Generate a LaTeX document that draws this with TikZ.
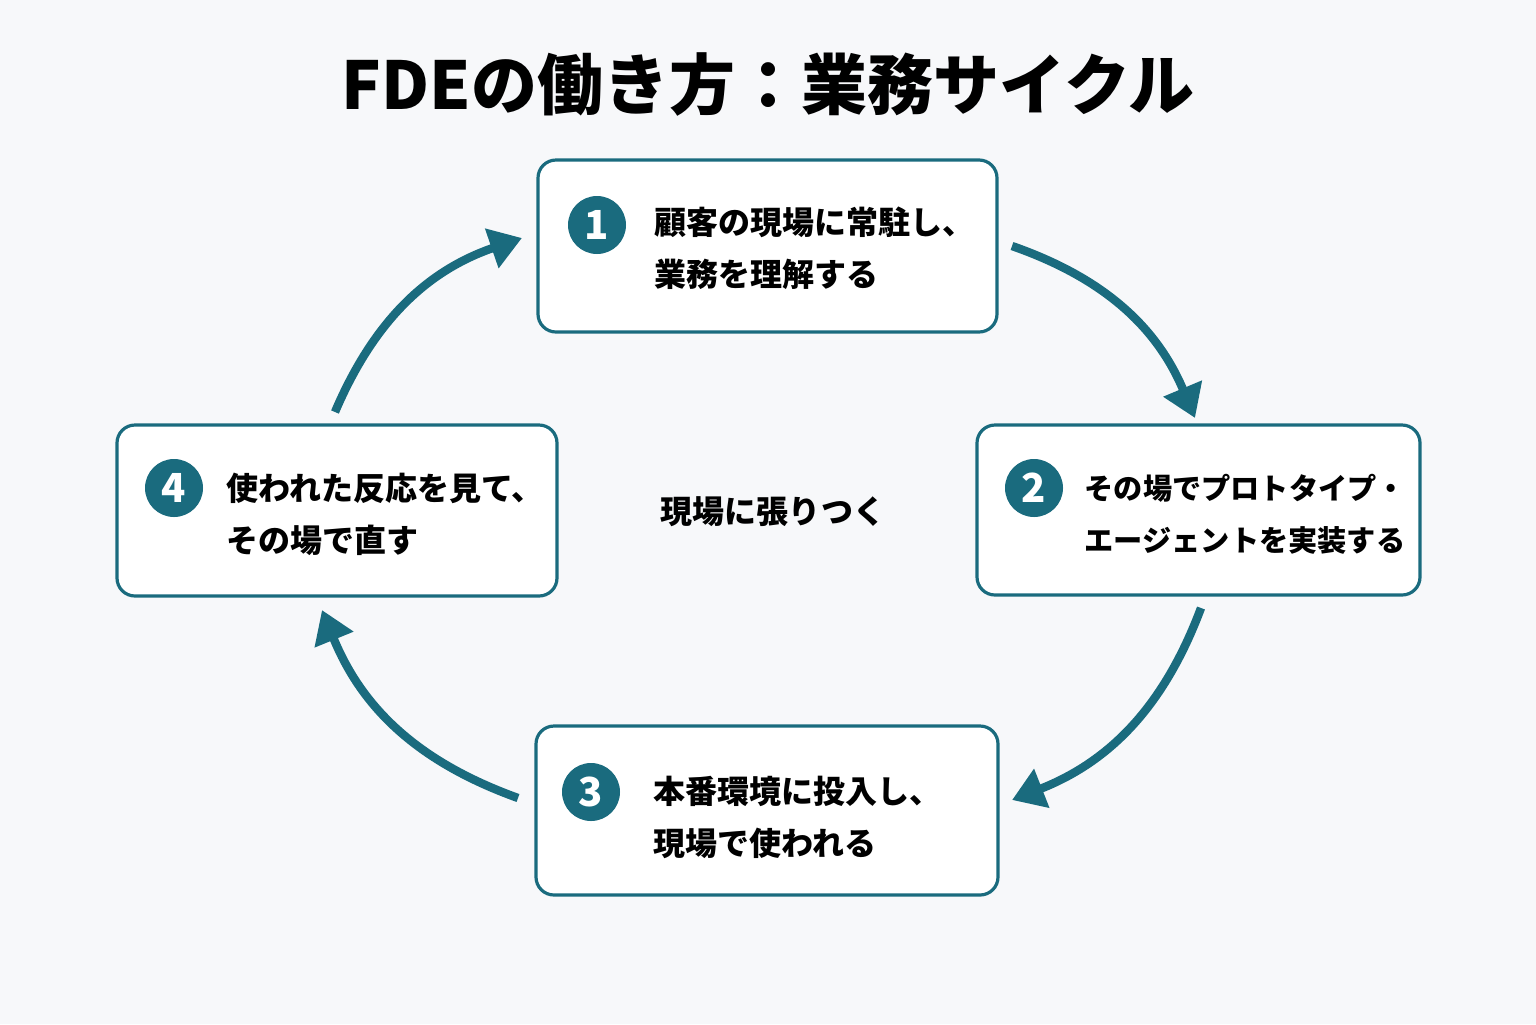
\documentclass[tikz,border=0pt]{standalone}
\usepackage{fontspec}
\setmainfont{Noto Sans CJK JP}
\usetikzlibrary{arrows.meta}
\definecolor{teal1}{HTML}{1A6B7E}
\definecolor{bgc}{HTML}{F7F8FA}
\tikzset{every picture/.style={line width=0.75pt}}
\tikzset{
  stepbox/.style={draw=teal1, line width=1.6pt, rounded corners=9pt, fill=white},
  num/.style={circle, fill=teal1, text=white, minimum size=29pt, inner sep=0pt, font=\fontsize{20}{20}\selectfont\bfseries},
  lbl/.style={anchor=west, align=left, inner sep=0pt, font=\fontsize{16}{26}\selectfont\bfseries},
  flow/.style={draw=teal1, line width=4.2pt, -{Triangle[length=16pt,width=20pt]}}
}

\begin{document}
\begin{tikzpicture}[x=0.5pt,y=-0.5pt]
%background
\fill[bgc] (0,0) rectangle (1536,1024);
\useasboundingbox (0,0) rectangle (1536,1024);

% Title
\node (title) at (768,85) {\fontsize{33}{33}\selectfont\bfseries FDEの働き方：業務サイクル};

% Boxes
\draw[stepbox] (538,160) rectangle (997,332);
\draw[stepbox] (977,425) rectangle (1420,595);
\draw[stepbox] (536,726) rectangle (998,895);
\draw[stepbox] (117,425) rectangle (557,596);

% Numbers
\node[num] (n1) at (597,225) {1};
\node[num] (n2) at (1034,488) {2};
\node[num] (n3) at (591,792) {3};
\node[num] (n4) at (174,488) {4};

% Labels
\node[lbl] (t1) at (654,248) {顧客の現場に常駐し、\\業務を理解する};
\node[lbl, font=\fontsize{14.6}{26}\selectfont\bfseries] (t2) at (1084,514) {その場でプロトタイプ・\\エージェントを実装する};
\node[lbl] (t3) at (653,817) {本番環境に投入し、\\現場で使われる};
\node[lbl] (t4) at (226,514) {使われた反応を見て、\\その場で直す};
\node (center) at (773,512) {\fontsize{16}{16}\selectfont\bfseries 現場に張りつく};

% Cycle arrows
\coordinate (a1) at (1012,246);
\coordinate (b1) at (1195,418);
\coordinate (a2) at (1201,608);
\coordinate (b2) at (1012,800);
\coordinate (a3) at (518,798);
\coordinate (b3) at (322,610);
\coordinate (a4) at (335,412);
\coordinate (b4) at (522,238);
\draw[flow] (a1) to[bend left=24] (b1);
\draw[flow] (a2) to[bend left=24] (b2);
\draw[flow] (a3) to[bend left=24] (b3);
\draw[flow] (a4) to[bend left=24] (b4);
\end{tikzpicture}
\end{document}
